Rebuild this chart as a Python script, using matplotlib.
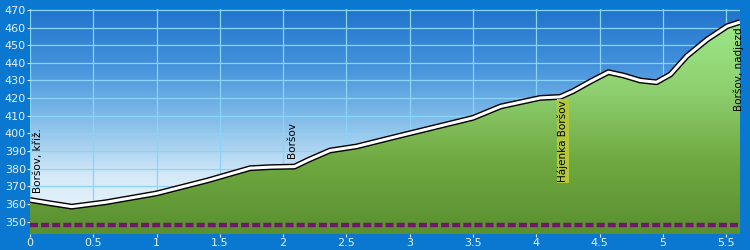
import matplotlib.pyplot as plt
import numpy as np
from matplotlib.colors import LinearSegmentedColormap

# elevation profile (km, m)
dist = [0.0, 0.15, 0.33, 0.6, 1.0, 1.4, 1.74, 1.9, 2.09, 2.2, 2.37, 2.58,
        2.9, 3.06, 3.5, 3.72, 4.03, 4.19, 4.29, 4.43, 4.57, 4.69, 4.82,
        4.95, 5.06, 5.19, 5.35, 5.51, 5.61]
elev = [362.3, 360.5, 358.5, 361.0, 366.0, 373.3, 380.3, 380.9, 381.2, 385.0,
        390.3, 392.6, 398.3, 401.1, 408.8, 415.3, 420.1, 420.7, 423.9, 429.5,
        434.7, 432.8, 430.0, 429.0, 433.4, 443.8, 453.2, 460.8, 463.1]

# waypoint labels: (km, elevation of text base, text)
wp_km = [0.06, 2.07, 4.21, 5.6]
wp_ele = [366.5, 386.0, 372.5, 412.5]
wp_text = ["Boršov, křiž.", "Boršov", "Hájenka Boršov", "Boršov, nadjezd"]
wp_box = [False, False, True, False]

base_level = 348
xmax, ymin, ymax = 5.61, 343, 470.5

fig = plt.figure(figsize=(7.5, 2.5), dpi=100, facecolor="#0a78d0")
ax = fig.add_axes([30 / 750, 16 / 250, 710 / 750, 225 / 250])

# sky gradient
sky = LinearSegmentedColormap.from_list(
    "sky", ["#f2f8fc", "#d6eaf8", "#86bfea", "#4592dc", "#1f74cc"])
grad = np.linspace(0, 1, 256).reshape(-1, 1)
ax.imshow(grad, cmap=sky, origin="lower", aspect="auto",
          extent=[0, xmax, ymin, ymax], zorder=0)

# grid
for gx in np.arange(0, 5.51, 0.5):
    ax.axvline(gx, color="#8ad4f8", lw=0.9, zorder=1)
for gy in range(350, 471, 10):
    ax.axhline(gy, color="#8ad4f8", lw=0.9, zorder=1)

# green fill with gradient, clipped to the profile
ground = LinearSegmentedColormap.from_list(
    "ground", ["#5a9030", "#6fa840", "#8fd070", "#9ee88a"])
poly = ax.fill_between(dist, elev, ymin, color="none", zorder=2)
im = ax.imshow(grad, cmap=ground, origin="lower", aspect="auto",
               extent=[0, xmax, ymin, 465], zorder=2)
im.set_clip_path(poly.get_paths()[0], transform=ax.transData)

# profile line
ax.plot(dist, elev, color="black", lw=4.2, solid_capstyle="butt",
        solid_joinstyle="round", zorder=3)
ax.plot(dist, elev, color="white", lw=2.2, solid_capstyle="butt",
        solid_joinstyle="round", zorder=4)

# dotted baseline
ax.plot([0, xmax], [base_level, base_level], color="#6e1a66", lw=3.2,
        linestyle=(0, (1.8, 0.7)), dash_capstyle="butt", zorder=4)

for x, y, t, box in zip(wp_km, wp_ele, wp_text, wp_box):
    kw = {}
    if box:
        kw["bbox"] = dict(boxstyle="square,pad=0.1", fc="#b4c838", ec="none")
    ax.text(x, y, t, rotation=90, ha="center", va="bottom", fontsize=7.5,
            color="black", zorder=5, **kw)

ax.set_xlim(0, xmax)
ax.set_ylim(ymin, ymax)
ax.set_xticks(np.arange(0, 5.51, 0.5))
ax.set_xticklabels(["0", "0.5", "1", "1.5", "2", "2.5", "3", "3.5", "4",
                    "4.5", "5", "5.5"])
ax.set_yticks(range(350, 471, 10))
ax.tick_params(colors="#e8f0f8", labelsize=8, length=2, pad=1)
for s in ax.spines.values():
    s.set_visible(False)

fig.savefig("out.png", dpi=100, facecolor=fig.get_facecolor())
